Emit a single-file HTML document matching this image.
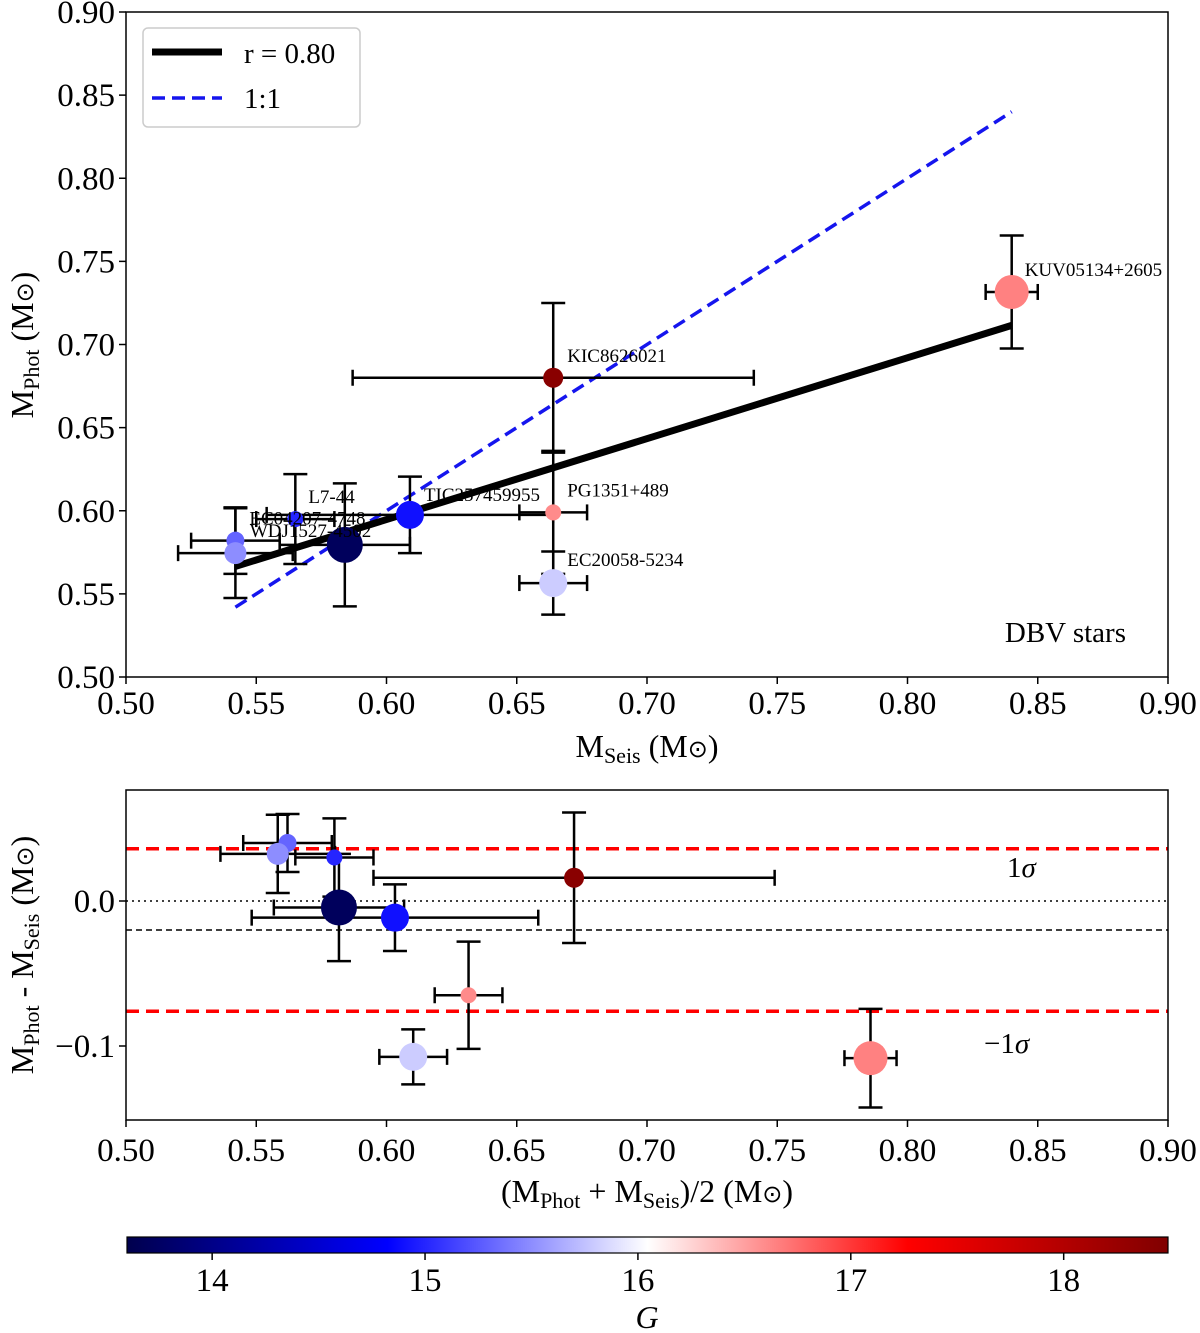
<!DOCTYPE html>
<html><head><meta charset="utf-8"><style>
body{margin:0;background:#fff;}
svg{display:block;font-family:"Liberation Serif",serif;}
</style></head><body>
<svg id="c" width="1200" height="1333" viewBox="0 0 1200 1333" xmlns="http://www.w3.org/2000/svg">
<defs>
<linearGradient id="cmap" x1="0" x2="1" y1="0" y2="0">
<stop offset="0" stop-color="#00004d"/><stop offset="0.25" stop-color="#0000ff"/><stop offset="0.5" stop-color="#ffffff"/><stop offset="0.75" stop-color="#ff0000"/><stop offset="1" stop-color="#800000"/>
</linearGradient>
</defs>
</svg>
<script>
const names=["KUV05134+2605","KIC8626021","PG1351+489","EC20058-5234","TIC257459955","WDJ1527-4502","L7-44","EC04207-4748","WDJ0600-5739"];
const mSeis=[0.840,0.664,0.664,0.664,0.609,0.584,0.565,0.542,0.542];
const mPhot=[0.7316,0.680,0.599,0.5565,0.5975,0.5795,0.595,0.582,0.5745];
const errSeis=[0.010,0.077,0.013,0.013,0.055,0.025,0.015,0.017,0.022];
const errPhot=[0.034,0.045,0.037,0.019,0.023,0.037,0.027,0.020,0.027];
const gMag=[16.65,18.4,16.6,15.8,14.9,13.7,15.0,15.3,15.5];
const radii=[17,10,8,14,14,18,8,9,11];
const fitLine=[0.542,0.5665,0.840,0.7115];
const sigmaLines=[0.036,-0.076];
const meanDiff=[-0.020];
const xTicks=[0.50,0.55,0.60,0.65,0.70,0.75,0.80,0.85,0.90];
const yTicksTop=[0.50,0.55,0.60,0.65,0.70,0.75,0.80,0.85,0.90];
const yTicksBot=[0.0,-0.1];
const cbTicks=[14,15,16,17,18];

const NS="http://www.w3.org/2000/svg";
const svg=document.getElementById('c');
function el(t,a,p){const e=document.createElementNS(NS,t);for(const k in a)e.setAttribute(k,a[k]);(p||svg).appendChild(e);return e;}
const X0=126,X1=1168;
const sx=v=>X0+(v-0.5)*(X1-X0)/0.4;
const syT=v=>677-(v-0.5)*665/0.4;
const syB=v=>901-v*1450;
const cbMin=13.6,cbMax=18.49;
const sc=v=>127+(v-cbMin)*(1168-127)/(cbMax-cbMin);
function cmap(g){
 const t=Math.max(0,Math.min(1,(g-cbMin)/(cbMax-cbMin)));
 const st=[[0,0,0,77],[0.25,0,0,255],[0.5,255,255,255],[0.75,255,0,0],[1,128,0,0]];
 for(let i=0;i<4;i++){if(t<=st[i+1][0]){const f=(t-st[i][0])/(st[i+1][0]-st[i][0]);const c=[1,2,3].map(j=>Math.round(st[i][j]+f*(st[i+1][j]-st[i][j])));return `rgb(${c})`;}}
 return 'rgb(128,0,0)';
}
function errbar(g,cx,cy,x1,x2,y1,y2){
 el('line',{x1:x1,x2:x2,y1:cy,y2:cy,stroke:'#000','stroke-width':2.5},g);
 el('line',{x1:x1,x2:x1,y1:cy-8,y2:cy+8,stroke:'#000','stroke-width':2.5},g);
 el('line',{x1:x2,x2:x2,y1:cy-8,y2:cy+8,stroke:'#000','stroke-width':2.5},g);
 el('line',{x1:cx,x2:cx,y1:y1,y2:y2,stroke:'#000','stroke-width':2.5},g);
 el('line',{x1:cx-12,x2:cx+12,y1:y1,y2:y1,stroke:'#000','stroke-width':2.5},g);
 el('line',{x1:cx-12,x2:cx+12,y1:y2,y2:y2,stroke:'#000','stroke-width':2.5},g);
}
function txt(s,x,y,size,anchor,name,p){const t=el('text',{x:x,y:y,'font-size':size,'text-anchor':anchor||'start',fill:'#000'},p);t.textContent=s;return t;}

// ===== TOP PANEL =====
const topG=el('g',{});


const one=el('line',{x1:sx(0.542),y1:syT(0.542),x2:sx(0.840),y2:syT(0.840),stroke:'#1515ee','stroke-width':3.5,'stroke-dasharray':'13,7'},topG);


for(let i=0;i<names.length;i++){
 const g=el('g',{},topG);
 
 
 errbar(g,sx(mSeis[i]),syT(mPhot[i]),sx(mSeis[i]-errSeis[i]),sx(mSeis[i]+errSeis[i]),syT(mPhot[i]+errPhot[i]),syT(mPhot[i]-errPhot[i]));
}
const fit=el('line',{x1:sx(fitLine[0]),y1:syT(fitLine[1]),x2:sx(fitLine[2]),y2:syT(fitLine[3]),stroke:'#000','stroke-width':7},topG);


for(let i=0;i<names.length;i++){
 const c=el('circle',{cx:sx(mSeis[i]),cy:syT(mPhot[i]),r:radii[i],fill:cmap(gMag[i])},topG);
 
 
}
const lblOff=[[13,-22],[14,-22],[14,-22],[14,-23],[14,-20],[-95,-14],[13,-22],[14,-22],[14,-23]];
const lblNames=["KUV05134+2605","KIC8626021","PG1351+489","EC20058-5234","TIC257459955","WDJ1527-4502","L7-44","EC04207-4748","EC04207-TIC257459958"];
for(let i=0;i<names.length;i++){
 if(i==8) continue;
 txt(lblNames[i],sx(mSeis[i])+lblOff[i][0],syT(mPhot[i])+lblOff[i][1]+6,19,'start','label-'+names[i],topG);
}
el('rect',{x:X0,y:12,width:X1-X0,height:665,fill:'none',stroke:'#000','stroke-width':1.5},topG);
xTicks.forEach(v=>{el('line',{x1:sx(v),x2:sx(v),y1:677,y2:684,stroke:'#000','stroke-width':1.5},topG);txt(v.toFixed(2),sx(v),714,33,'middle','x-tick-top',topG);});
yTicksTop.forEach(v=>{el('line',{x1:X0-7,x2:X0,y1:syT(v),y2:syT(v),stroke:'#000','stroke-width':1.5},topG);txt(v.toFixed(2),115,syT(v)+11,33,'end','y-tick-top',topG);});
const xt=el('text',{x:647,y:757,'font-size':32,'text-anchor':'middle'},topG);
xt.innerHTML='M<tspan font-size="22" dy="6">Seis</tspan><tspan dy="-6"> (M</tspan><tspan font-size="24">⊙</tspan>)';


const yt=el('text',{x:0,y:0,'font-size':32,'text-anchor':'middle',transform:'translate(33,345) rotate(-90)'},topG);
yt.innerHTML='M<tspan font-size="22" dy="6">Phot</tspan><tspan dy="-6"> (M</tspan><tspan font-size="24">⊙</tspan>)';


txt('DBV stars',1126,642,29,'end','panel-annotation',topG);
const lg=el('g',{},topG);


el('rect',{x:143,y:28,width:217,height:99,rx:5,fill:'#fff',stroke:'#ccc','stroke-width':1.5},lg);
el('line',{x1:152,x2:222,y1:52,y2:52,stroke:'#000','stroke-width':7},lg);
txt('r = 0.80',244,63,29,'start','legend-entry-fit',lg);
el('line',{x1:152,x2:222,y1:98,y2:98,stroke:'#1515ee','stroke-width':3.5,'stroke-dasharray':'13,7'},lg);
txt('1:1',244,108,29,'start','legend-entry-one-to-one',lg);

// ===== BOTTOM PANEL =====
const bot=el('g',{});


el('line',{x1:X0,x2:X1,y1:syB(0),y2:syB(0),stroke:'#000','stroke-width':1.5,'stroke-dasharray':'2,4'},bot);
const md=el('line',{x1:X0,x2:X1,y1:syB(meanDiff[0]),y2:syB(meanDiff[0]),stroke:'#000','stroke-width':1.5,'stroke-dasharray':'6,4'},bot);


sigmaLines.forEach((v,k)=>{const l=el('line',{x1:X0,x2:X1,y1:syB(v),y2:syB(v),stroke:'#f00','stroke-width':3.5,'stroke-dasharray':'13,7'},bot);

});
for(let i=0;i<names.length;i++){
 const m=(mPhot[i]+mSeis[i])/2,d=mPhot[i]-mSeis[i];
 const g=el('g',{},bot);
 
 
 errbar(g,sx(m),syB(d),sx(m-errSeis[i]),sx(m+errSeis[i]),syB(d+errPhot[i]),syB(d-errPhot[i]));
}
for(let i=0;i<names.length;i++){
 const m=(mPhot[i]+mSeis[i])/2,d=mPhot[i]-mSeis[i];
 const c=el('circle',{cx:sx(m),cy:syB(d),r:radii[i],fill:cmap(gMag[i])},bot);
 
 
}
el('rect',{x:X0,y:790,width:X1-X0,height:330,fill:'none',stroke:'#000','stroke-width':1.5},bot);
xTicks.forEach(v=>{el('line',{x1:sx(v),x2:sx(v),y1:1120,y2:1127,stroke:'#000','stroke-width':1.5},bot);txt(v.toFixed(2),sx(v),1161,33,'middle','x-tick-bottom',bot);});
yTicksBot.forEach(v=>{el('line',{x1:X0-7,x2:X0,y1:syB(v),y2:syB(v),stroke:'#000','stroke-width':1.5},bot);txt(v==0?'0.0':'−0.1',115,syB(v)+11,33,'end','y-tick-bottom',bot);});
const s1=el('text',{x:1007,y:877,'font-size':29},bot);s1.innerHTML='1<tspan font-style="italic">σ</tspan>';


const s2=el('text',{x:984,y:1053,'font-size':29},bot);s2.innerHTML='−1<tspan font-style="italic">σ</tspan>';


const bx=el('text',{x:647,y:1202,'font-size':32,'text-anchor':'middle'},bot);
bx.innerHTML='(M<tspan font-size="22" dy="6">Phot</tspan><tspan dy="-6"> + M</tspan><tspan font-size="22" dy="6">Seis</tspan><tspan dy="-6">)/2 (M</tspan><tspan font-size="24">⊙</tspan>)';


const by=el('text',{x:0,y:0,'font-size':32,'text-anchor':'middle',transform:'translate(33,955) rotate(-90)'},bot);
by.innerHTML='M<tspan font-size="22" dy="6">Phot</tspan><tspan dy="-6"> - M</tspan><tspan font-size="22" dy="6">Seis</tspan><tspan dy="-6"> (M</tspan><tspan font-size="24">⊙</tspan>)';



// ===== COLORBAR =====
const cb=el('g',{});


el('rect',{x:127,y:1237,width:1041,height:16,fill:'url(#cmap)',stroke:'#000','stroke-width':1.2},cb);
cbTicks.forEach(v=>{el('line',{x1:sc(v),x2:sc(v),y1:1253,y2:1260,stroke:'#000','stroke-width':1.5},cb);txt(String(v),sc(v),1291,33,'middle','colorbar-tick',cb);});
const gl=txt('G',647,1328,32,'middle','colorbar-label',cb);gl.setAttribute('font-style','italic');
</script>
</body></html>
